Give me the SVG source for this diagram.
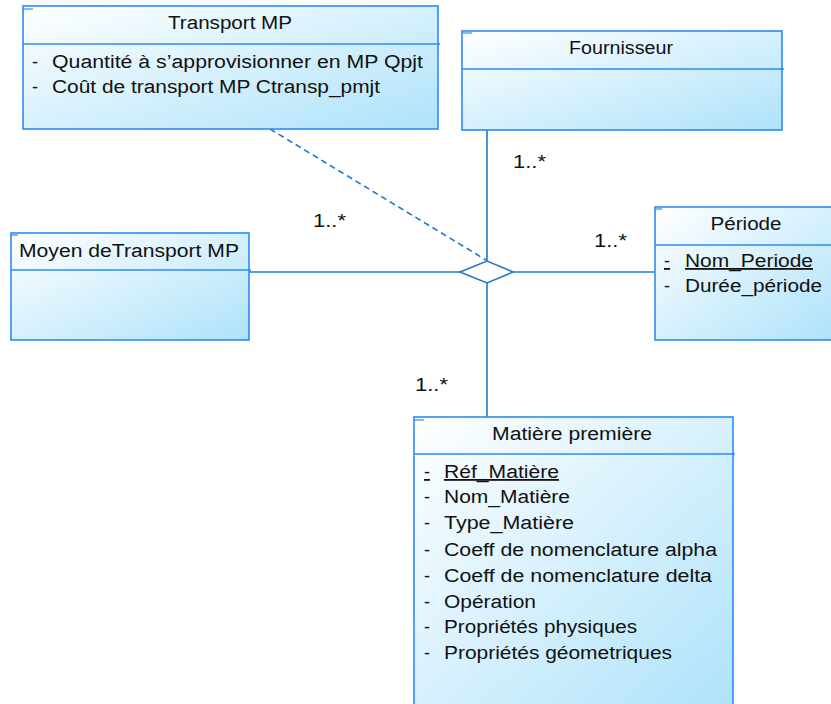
<svg xmlns="http://www.w3.org/2000/svg" width="831" height="704" viewBox="0 0 831 704">
<defs>
<linearGradient id="g" x1="0" y1="0" x2="1" y2="1">
<stop offset="0" stop-color="#ffffff"/>
<stop offset="1" stop-color="#aee2fa"/>
</linearGradient>
<style>
.box{fill:url(#g);stroke:#2a8df2;stroke-width:1.6}
.sep{stroke:#2a8df2;stroke-width:1.6}
.tick{stroke:#2a8df2;stroke-width:1.2}
text{font-family:"Liberation Sans",Arial,sans-serif;font-size:18px;fill:#111}
.t{text-anchor:middle}
.u{text-decoration:underline}
.c{stroke:#1f78c9;stroke-width:1.6;fill:none}
.d{stroke-dasharray:6 4}
</style>
</defs>
<g id="connectors">
<line class="c d" x1="270" y1="129" x2="486" y2="260"/>
<line class="c" x1="487" y1="130" x2="487" y2="261"/>
<line class="c" x1="249" y1="272" x2="460" y2="272"/>
<line class="c" x1="513" y1="272" x2="655" y2="272"/>
<line class="c" x1="487" y1="283" x2="487" y2="417"/>
<polygon class="c" points="460,272 487,261 513,272 487,283" style="fill:#fff"/>
<text x="513" y="168" textLength="33" lengthAdjust="spacingAndGlyphs">1..*</text>
<text x="313" y="227" textLength="33" lengthAdjust="spacingAndGlyphs">1..*</text>
<text x="594" y="247" textLength="33" lengthAdjust="spacingAndGlyphs">1..*</text>
<text x="415" y="391" textLength="33" lengthAdjust="spacingAndGlyphs">1..*</text>
</g>
<g id="transport-mp">
<rect class="box" x="23" y="6" width="415" height="123"/>
<line class="sep" x1="23" y1="44" x2="440" y2="44"/>
<line class="tick" x1="23" y1="9" x2="33" y2="9"/>
<text class="t" x="230" y="29" textLength="124" lengthAdjust="spacingAndGlyphs">Transport MP</text>
<text x="32" y="68">-</text>
<text x="52" y="68" textLength="371" lengthAdjust="spacingAndGlyphs">Quantité à s’approvisionner en MP Qpjt</text>
<text x="32" y="93">-</text>
<text x="52" y="93" textLength="328" lengthAdjust="spacingAndGlyphs">Coût de transport MP Ctransp_pmjt</text>
</g>
<g id="fournisseur">
<rect class="box" x="462" y="31" width="320" height="99"/>
<line class="sep" x1="462" y1="69" x2="784" y2="69"/>
<line class="tick" x1="462" y1="33" x2="472" y2="33"/>
<text class="t" x="621" y="54" textLength="104" lengthAdjust="spacingAndGlyphs">Fournisseur</text>
</g>
<g id="moyen-transport">
<rect class="box" x="11" y="233" width="238" height="107"/>
<line class="sep" x1="11" y1="270" x2="251" y2="270"/>
<line class="tick" x1="11" y1="235" x2="18" y2="235"/>
<text x="19" y="257" textLength="220" lengthAdjust="spacingAndGlyphs">Moyen deTransport MP</text>
</g>
<g id="periode">
<rect class="box" x="655" y="207" width="180" height="133"/>
<line class="sep" x1="655" y1="245" x2="831" y2="245"/>
<line class="tick" x1="655" y1="209" x2="662" y2="209"/>
<text class="t" x="746" y="230" textLength="71" lengthAdjust="spacingAndGlyphs">Période</text>
<text class="u" x="664" y="267">-</text>
<text class="u" x="685" y="267" textLength="128" lengthAdjust="spacingAndGlyphs">Nom_Periode</text>
<text x="664" y="292">-</text>
<text x="685" y="292" textLength="137" lengthAdjust="spacingAndGlyphs">Durée_période</text>
</g>
<g id="matiere-premiere">
<rect class="box" x="414" y="417" width="319" height="292"/>
<line class="sep" x1="414" y1="454" x2="735" y2="454"/>
<line class="tick" x1="414" y1="420" x2="424" y2="420"/>
<text class="t" x="572" y="440" textLength="160" lengthAdjust="spacingAndGlyphs">Matière première</text>
<text class="u" x="424" y="478">-</text>
<text class="u" x="444" y="478" textLength="115" lengthAdjust="spacingAndGlyphs">Réf_Matière</text>
<text x="424" y="503">-</text>
<text x="444" y="503" textLength="126" lengthAdjust="spacingAndGlyphs">Nom_Matière</text>
<text x="424" y="529">-</text>
<text x="444" y="529" textLength="130" lengthAdjust="spacingAndGlyphs">Type_Matière</text>
<text x="424" y="556">-</text>
<text x="444" y="556" textLength="273" lengthAdjust="spacingAndGlyphs">Coeff de nomenclature alpha</text>
<text x="424" y="582">-</text>
<text x="444" y="582" textLength="268" lengthAdjust="spacingAndGlyphs">Coeff de nomenclature delta</text>
<text x="424" y="608">-</text>
<text x="444" y="608" textLength="92" lengthAdjust="spacingAndGlyphs">Opération</text>
<text x="424" y="633">-</text>
<text x="444" y="633" textLength="193" lengthAdjust="spacingAndGlyphs">Propriétés physiques</text>
<text x="424" y="659">-</text>
<text x="444" y="659" textLength="228" lengthAdjust="spacingAndGlyphs">Propriétés géometriques</text>
</g>
</svg>
